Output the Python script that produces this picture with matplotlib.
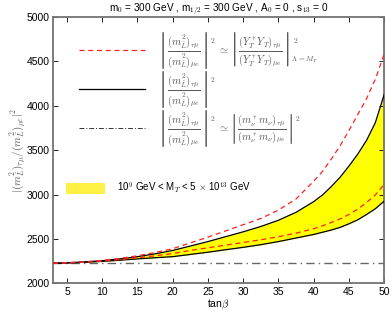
import numpy as np
import matplotlib
matplotlib.use("Agg")
import matplotlib.pyplot as plt
from matplotlib.lines import Line2D
from matplotlib.patches import Patch
from matplotlib.mathtext import MathTextParser

plt.rcParams['font.family'] = ['Liberation Sans', 'DejaVu Sans']
plt.rcParams['mathtext.fontset'] = 'cm'

tanb = [3, 5, 7.5, 10, 12.5, 15, 17.5, 20, 22.5, 25, 27.5, 30, 32.5, 35, 37.5,
        40, 41.25, 42.5, 43.75, 45, 46.25, 47.5, 48.75, 50]
upper_red = [2226, 2232, 2242, 2258, 2280, 2310, 2347, 2390, 2455, 2520, 2590, 2660, 2730, 2825, 2950,
             3150, 3260, 3400, 3550, 3720, 3900, 4080, 4300, 4580]
upper_black = [2226, 2231, 2241, 2255, 2275, 2300, 2332, 2370, 2420, 2470, 2525, 2580, 2640, 2710, 2800,
               2920, 2995, 3090, 3195, 3320, 3455, 3610, 3810, 4126]
lower_red = [2226, 2230, 2239, 2250, 2267, 2288, 2310, 2335, 2370, 2400, 2430, 2460, 2490, 2525, 2565,
             2615, 2648, 2685, 2725, 2775, 2835, 2910, 2995, 3115]
lower_black = [2226, 2229, 2237, 2247, 2260, 2275, 2288, 2300, 2325, 2350, 2378, 2405, 2435, 2470, 2510,
               2550, 2575, 2600, 2630, 2670, 2715, 2775, 2840, 2925]
neutrino_ratio = 2225

xticks = [5, 10, 15, 20, 25, 30, 35, 40, 45, 50]
yticks = [2000, 2500, 3000, 3500, 4000, 4500, 5000]

fig = plt.figure(figsize=(3.92, 3.12), dpi=100)
ax = fig.add_axes([0.135, 0.092, 0.845, 0.8535])

ax.fill_between(tanb, lower_black, upper_black, color='#ffff00', lw=0, zorder=1)
ax.plot(tanb, upper_black, color='black', lw=0.9, zorder=3)
ax.plot(tanb, lower_black, color='black', lw=0.9, zorder=3)
ax.plot(tanb, upper_red, color='#ff2020', lw=0.9, ls=(0, (4, 3)), zorder=4)
ax.plot(tanb, lower_red, color='#ff2020', lw=0.9, ls=(0, (4, 3)), zorder=4)
ax.plot([tanb[0], tanb[-1]], [neutrino_ratio, neutrino_ratio], color='0.4', lw=1.0,
        ls=(0, (6, 3, 1, 3)), zorder=2)

ax.set_xlim(3, 50)
ax.set_ylim(2000, 5000)
ax.set_xticks(xticks)
ax.set_yticks(yticks)
ax.tick_params(direction='in', length=3.5, width=0.6, top=True, right=True,
               labelsize=7.5, pad=2.5, colors='black')
for s in ax.spines.values():
    s.set_color('0.45')
    s.set_linewidth(1.3)

ax.set_xlabel(r'tan$\beta$', fontsize=7.5, labelpad=1)
ax.set_ylabel(r'$|(m^2_{\tilde{L}})_{\tau\mu}/(m^2_{\tilde{L}})_{\mu e}|^2$', fontsize=8, color='0.35', labelpad=-1)
ax.set_title(r'm$_0$ = 300 GeV , m$_{1/2}$ = 300 GeV , A$_0$ = 0 , s$_{13}$ = 0', fontsize=7.2, pad=4)

_parser = MathTextParser('path')


def ok(s):
    try:
        _parser.parse(s, dpi=100)
        return True
    except Exception:
        return False


frac = r'\dfrac{(m^2_{\tilde{L}})_{\tau\mu}}{(m^2_{\tilde{L}})_{\mu e}}'
yfrac = r'\dfrac{(Y_T^\dagger Y_T)_{\tau\mu}}{(Y_T^\dagger Y_T)_{\mu e}}'
nfrac = r'\dfrac{(m_\nu^\dagger m_\nu)_{\tau\mu}}{(m_\nu^\dagger m_\nu)_{\mu e}}'

UP = r'\genfrac{}{}{0}{0}{\genfrac{}{}{0}{0}{{}^{2}}{\,}}{\,}'
UPDOWN = (r'\genfrac{}{}{0}{0}{\genfrac{}{}{0}{0}{{}^{2}\;\;\;\;\;\;}{\,}}'
          r'{\genfrac{}{}{0}{0}{\,}{{}_{\Lambda=M_T}}}')
variants = [
    (UP, UPDOWN),
    (r'\genfrac{}{}{0}{0}{{}^{2}}{\,}', r'\genfrac{}{}{0}{0}{{}^{2}\;\;\;\;\;\;}{{}_{\Lambda=M_T}}'),
    (r'^2', r'^2_{\Lambda=M_T}'),
]
labs = None
for sup, supsub in variants:
    l1 = r'$\left|' + frac + r'\right|' + sup + r'\simeq\left|' + yfrac + r'\right|' + supsub + '$'
    l2 = r'$\left|' + frac + r'\right|' + sup + '$'
    l3 = r'$\left|' + frac + r'\right|' + sup + r'\simeq\left|' + nfrac + r'\right|' + sup + '$'
    if all(ok(l) for l in (l1, l2, l3)):
        labs = [l1, l2, l3]
        break
if labs is None:
    labs = [r'$|(m^2_{\tilde{L}})_{\tau\mu}/(m^2_{\tilde{L}})_{\mu e}|^2$'] * 3

handles = [Line2D([], [], color='#ff2020', lw=0.9, ls=(0, (4, 3))),
           Line2D([], [], color='black', lw=0.9),
           Line2D([], [], color='0.2', lw=0.7, ls=(0, (5, 2, 1, 2)))]
leg1 = ax.legend(handles, labs, loc='upper left', bbox_to_anchor=(0.08, 0.95),
                 frameon=False, fontsize=7.5, handlelength=6.3, handletextpad=1.1,
                 labelspacing=-0.2, labelcolor='0.35', borderaxespad=0, borderpad=0)
ax.add_artist(leg1)
leg2 = ax.legend([Patch(facecolor='#fff044', edgecolor='none')],
                 [r'10$^9$ GeV < M$_T$ < 5 $\times$ 10$^{13}$ GeV'],
                 loc='upper left', bbox_to_anchor=(0.04, 0.385), frameon=False,
                 fontsize=7, handlelength=4.0, handleheight=1.3, handletextpad=1.2,
                 borderaxespad=0, borderpad=0)

fig.savefig('out.png', dpi=100)
